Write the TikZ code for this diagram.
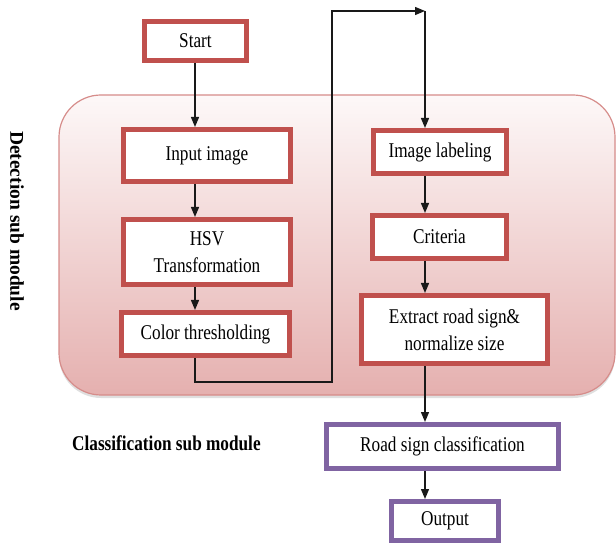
\documentclass[tikz,border=0pt]{standalone}
\usepackage{fontspec}
\setmainfont{Liberation Serif}[FakeStretch=0.82]
\newfontfamily\detfont{Liberation Serif}
\usetikzlibrary{arrows.meta,shadows}
\definecolor{boxred}{RGB}{192,80,77}
\definecolor{boxpurple}{RGB}{128,100,162}
\definecolor{pinktop}{RGB}{253,248,248}
\definecolor{pinkbot}{RGB}{229,176,175}
\definecolor{pinkline}{RGB}{214,140,138}
\definecolor{arrowcol}{RGB}{25,25,25}
\tikzset{
  redbox/.style={draw=boxred, line width=5pt, fill=white, inner sep=0pt, align=center,
    font=\fontsize{21}{27}\selectfont},
  purplebox/.style={redbox, draw=boxpurple},
  arr/.style={draw=arrowcol, line width=1.3pt, -{Triangle[length=10pt,width=8pt]}},
}
\begin{document}
\begin{tikzpicture}[x=1pt,y=-1pt]
\useasboundingbox (0,0) rectangle (616,545);
% region
\path[draw=pinkline, line width=1.2pt, top color=pinktop, bottom color=pinkbot,
  rounded corners=42pt, drop shadow={opacity=0.25, shadow xshift=0pt, shadow yshift=-3pt}]
  (59,95) rectangle (615,395);
% labels
\node[font=\detfont\bfseries\fontsize{19.5}{24}\selectfont, rotate=-90] (det) at (17,221) {Detection sub module};
\node[font=\bfseries\fontsize{21}{24}\selectfont, anchor=base west, inner sep=0pt] (cls) at (72,450) {Classification sub module};
% boxes (min size = outer size - 5)
\node[redbox, minimum width=102pt, minimum height=39pt] (start) at (195.5,41) {Start};
\node[redbox, minimum width=167pt, minimum height=52pt] (input) at (207,155.5) {Input image};
\node[redbox, minimum width=167pt, minimum height=65pt] (hsv) at (207,252) {HSV\\Transformation};
\node[redbox, minimum width=168pt, minimum height=43pt] (ct) at (205.5,334) {Color thresholding};
\node[redbox, minimum width=133pt, minimum height=43pt] (il) at (440,152) {Image labeling};
\node[redbox, minimum width=134pt, minimum height=43pt] (crit) at (439.5,237) {Criteria};
\node[redbox, minimum width=186pt, minimum height=68pt] (ext) at (454.5,329.5) {Extract road sign\&\\normalize size};
\node[purplebox, minimum width=232pt, minimum height=44pt] (rsc) at (442.5,446.5) {Road sign classification};
\node[purplebox, minimum width=107pt, minimum height=39pt] (out) at (445,521) {Output};
% guide coordinates
\coordinate (xl) at (195,0);
\coordinate (xr) at (425,0);
\coordinate (bend) at (332,382);
\coordinate (topc) at (425,11);
% connectors
\draw[arr] (start.south -| xl) -- (input.north -| xl);
\draw[arr] (input.south -| xl) -- (hsv.north -| xl);
\draw[arr] (hsv.south -| xl) -- (ct.north -| xl);
\draw[arr] (ct.south -| xl) |- (bend) |- (topc);
\draw[arr] (topc) -- (il.north -| xr);
\draw[arr] (il.south -| xr) -- (crit.north -| xr);
\draw[arr] (crit.south -| xr) -- (ext.north -| xr);
\draw[arr] (ext.south -| xr) -- (rsc.north -| xr);
\draw[arr] (rsc.south -| xr) -- (out.north -| xr);
\end{tikzpicture}
\end{document}
